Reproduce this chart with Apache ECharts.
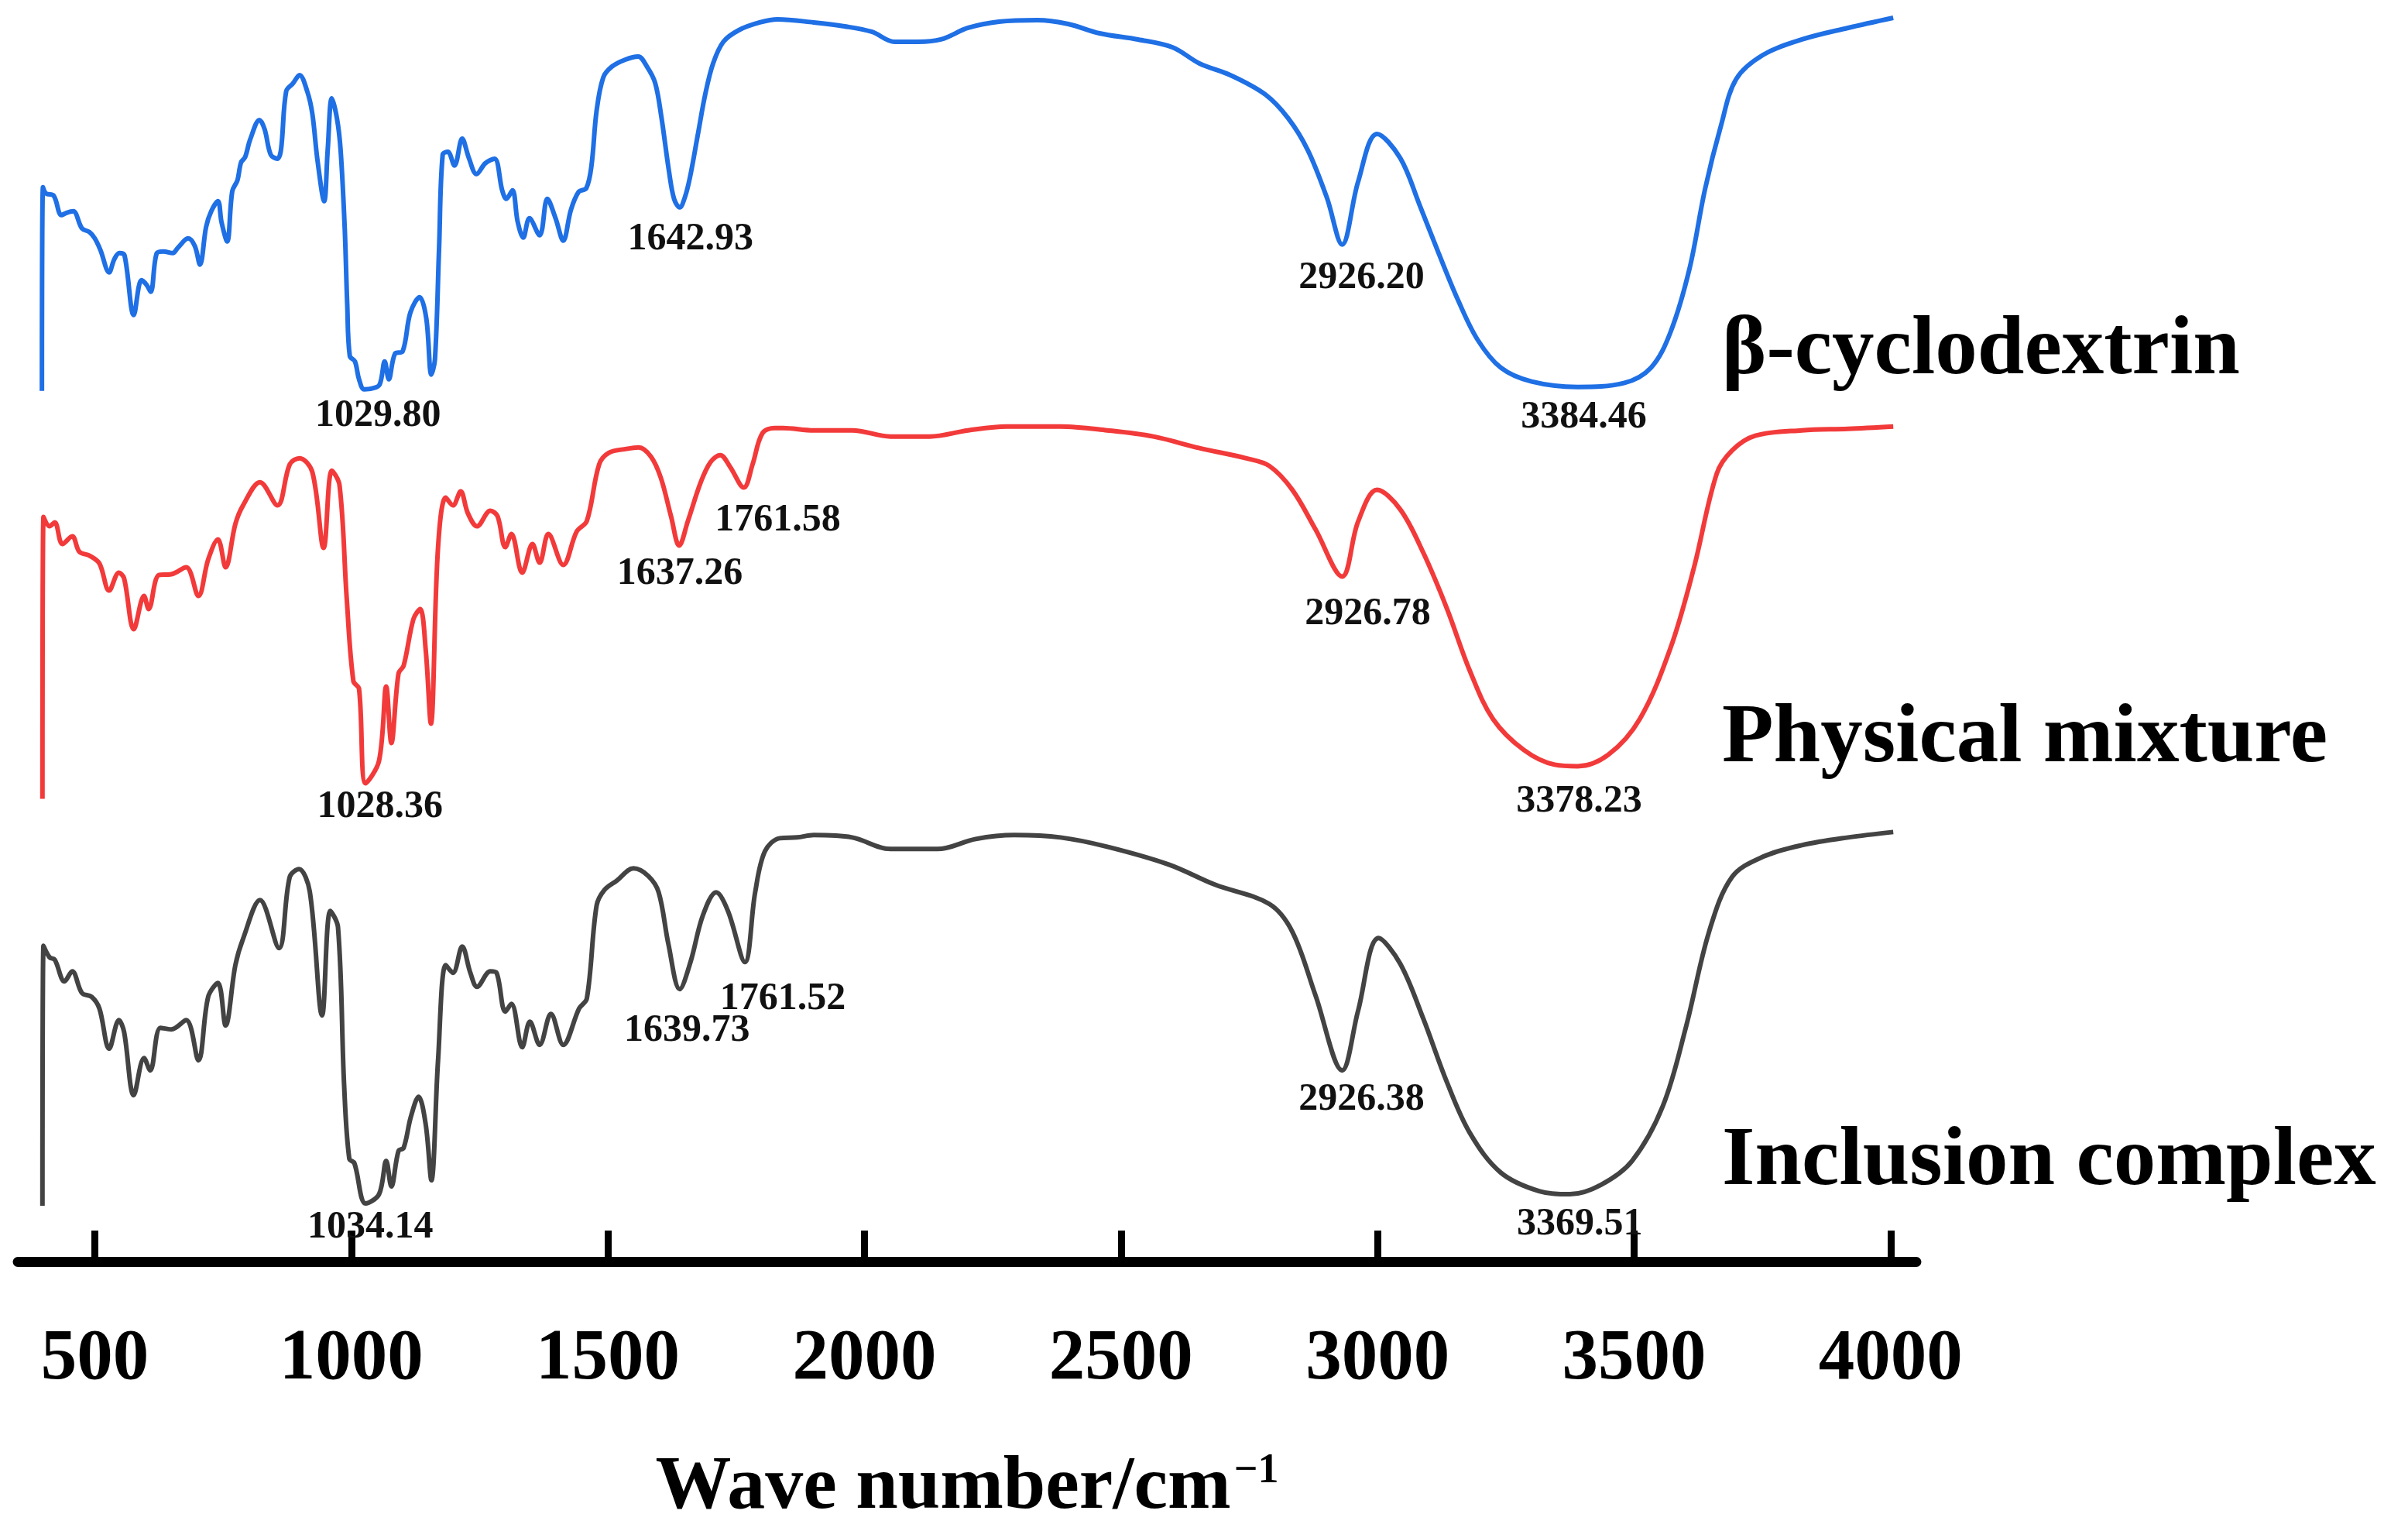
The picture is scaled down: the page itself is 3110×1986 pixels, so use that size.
<!DOCTYPE html>
<html>
<head>
<meta charset="utf-8">
<script src="https://cdn.jsdelivr.net/npm/echarts@6/dist/echarts.min.js"></script>
<style>
html,body{margin:0;padding:0;background:#fff;}
#chart{width:3110px;height:1986px;}
</style>
</head>
<body>
<div id="chart"></div>
<script>
// ---------- DATA ----------
const seriesNames = ['β-cyclodextrin', 'Physical mixture', 'Inclusion complex'];
const xTicks = [500, 1000, 1500, 2000, 2500, 3000, 3500, 4000];

// β-cyclodextrin: wavenumber (cm-1) and offset transmittance (a.u.)
const wnBeta = [397,399,405,420,435,445,458,475,490,500,511,528,538,548,558,576,591,601,609,621,634,652,662,682,695,705,717,727,740,747,758,768,778,785,793,803,821,831,843,856,863,873,886,899,914,924,934,947,954,962,972,979,987,992,997,1007,1015,1025,1040,1055,1065,1073,1085,
1100,1115,1133,1146,1156,1163,1171,1178,1188,1201,1216,1229,1244,1261,1279,1294,1302,1314,1324,1335,1347,1367,1382,1398,1413,1428,1443,1458,1468,1478,1491,1508,1534,1559,1576,1592,1604,1619,1629,1640,1650,1660,1675,1690,1705,1725,1755,1796,1831,
1901,1961,2014,2059,2104,2149,2202,2262,2337,2397,2458,2533,2600,2653,2713,2781,2826,2864,2901,2931,2962,2999,3044,3082,3119,3157,3195,3240,3300,3390,3480,3533,3571,3608,3638,3669,3699,3751,3827,3917,4005];
const tBeta = [1125,1388,1380,1377,1352,1355,1357,1335,1330,1322,1307,1278,1295,1303,1300,1223,1268,1262,1253,1303,1305,1303,1310,1322,1312,1288,1337,1357,1370,1343,1318,1383,1397,1420,1427,1450,1475,1463,1430,1425,1437,1512,1522,1533,1512,1483,1423,1370,1437,1503,1477,1437,1337,1237,1170,1163,1140,1127,1128,1133,1163,1140,1173,
1176,1226,1246,1219,1146,1166,1309,1430,1434,1416,1451,1426,1405,1419,1425,1384,1373,1384,1344,1323,1348,1326,1373,1348,1319,1359,1382,1387,1416,1487,1530,1544,1553,1557,1544,1523,1480,1409,1373,1362,1375,1401,1455,1509,1548,1576,1591,1601,1605,
1601,1596,1589,1576,1576,1579,1594,1602,1604,1599,1587,1579,1569,1548,1533,1508,1477,1436,1375,1314,1395,1457,1426,1365,1303,1242,1191,1155,1137,1130,1135,1155,1201,1283,1385,1467,1528,1559,1579,1594,1607];

// Physical mixture
const wnPhys = [398,400,412,422,437,456,470,490,509,528,547,557,576,596,605,625,649,678,702,721,740,755,774,789,822,856,880,899,924,946,962,977,991,1004,1015,1028,1054,1068,1078,1092,1102,1121,1134,1145,1155,1169,1184,1198,1213,1227,1245,1271,1285,1300,1312,1333,1353,1367,1384,1413,1439,1459,1483,1502,1536,1560,1584,1603,1623,1639,1656,1681,1700,1719,1738,1765,1782,1801,1825,
1841,1901,1976,2051,2127,2202,2277,2382,2473,2563,2653,2743,2789,2834,2879,2931,2962,2999,3044,3089,3135,3180,3225,3285,3345,3390,3450,3511,3571,3616,3661,3691,3736,3827,3917,4005];
const tPhys = [598,962,950,955,927,937,917,912,902,867,890,883,817,860,843,887,888,897,860,907,933,897,953,977,1007,977,1030,1038,1020,922,1022,1003,857,750,740,618,647,743,670,760,770,830,843,790,695,923,987,977,995,967,950,970,963,923,940,890,927,903,940,900,943,957,1030,1045,1050,1052,1040,1013,963,925,957,1007,1033,1042,1027,1000,1030,1070,1077,
1077,1074,1074,1066,1066,1074,1079,1079,1074,1066,1051,1038,1028,997,946,885,956,997,972,916,844,763,701,661,642,640,655,701,793,895,1018,1048,1067,1074,1076,1079];

// Inclusion complex
const wnIncl = [398,400,412,422,441,456,475,494,509,528,547,557,576,596,608,628,649,678,702,721,740,755,774,789,822,859,880,898,919,943,959,974,986,996,1006,1028,1054,1068,1078,1092,1102,1116,1131,1145,1156,1169,1184,1198,1216,1232,1245,1271,1283,1300,1312,1333,1348,1367,1389,1413,1444,1459,1478,1493,1517,1550,1579,1599,1618,1640,1661,1685,1711,1734,1767,1787,1806,1835,1869,
1901,1976,2051,2142,2217,2292,2382,2473,2593,2683,2789,2834,2879,2931,2962,3002,3044,3089,3135,3180,3240,3315,3375,3435,3496,3556,3601,3646,3691,3751,3827,3917,4005];
const tIncl = [72,408,393,390,362,375,347,342,327,275,312,297,215,263,247,302,300,312,260,342,360,305,383,417,467,405,497,507,478,318,453,432,227,133,127,75,87,130,97,143,147,187,213,177,105,260,383,373,407,373,355,375,373,323,333,277,310,280,320,280,327,340,460,480,492,508,498,477,410,352,387,447,477,453,387,477,530,547,548,
551,548,533,533,546,551,548,536,513,487,462,426,344,247,324,418,385,314,232,166,115,91,87,99,130,201,303,426,497,523,538,548,555];

// Peak annotations (text as printed)
const peaksBeta = ['1029.80', '1642.93', '2926.20', '3384.46'];
const peaksPhys = ['1028.36', '1637.26', '1761.58', '2926.78', '3378.23'];
const peaksIncl = ['1034.14', '1639.73', '1761.52', '2926.38', '3369.51'];

// ---------- LAYOUT / STYLE ----------
const SERIF = '"Liberation Serif","Times New Roman",serif';
const colors = ['#1f6fe5', '#f23a3a', '#434343'];
// label anchor points (x in cm-1, y in a.u.) for each peak label
const peakAnchors = [
  [[1052, 1093], [1661, 1321], [2969, 1271], [3402, 1091]],
  [[1056, 587], [1640, 888], [1831, 958], [2981, 836], [3393, 594]],
  [[1037, 44], [1654, 298], [1841, 339], [2969, 209], [3394, 48]]
];
const nameTops = [399, 900, 1446];

function zip(xs, ys) { return xs.map((x, i) => [x, ys[i]]); }
const allData = [zip(wnBeta, tBeta), zip(wnPhys, tPhys), zip(wnIncl, tIncl)];
const allPeaks = [peaksBeta, peaksPhys, peaksIncl];

const series = allData.map((d, si) => ({
  name: seriesNames[si],
  type: 'line',
  data: d,
  showSymbol: false,
  smooth: 0.35,
  lineStyle: { color: colors[si], width: 6 },
  itemStyle: { color: colors[si] },
  animation: false,
  markPoint: {
    symbol: 'circle',
    symbolSize: 1,
    itemStyle: { color: 'rgba(0,0,0,0)' },
    label: {
      show: true, position: 'inside', color: '#111',
      fontFamily: SERIF, fontWeight: 'bold', fontSize: 50
    },
    data: allPeaks[si].map((t, k) => ({
      coord: peakAnchors[si][k],
      value: t,
      label: { formatter: t }
    }))
  }
}));

const chart = echarts.init(document.getElementById('chart'), null, { renderer: 'canvas' });
chart.setOption({
  backgroundColor: '#ffffff',
  animation: false,
  grid: { left: 23, right: 635, top: 0, bottom: 311, containLabel: false },
  xAxis: {
    type: 'value', min: 350, max: 4050,
    splitLine: { show: false },
    axisLine: { show: true, lineStyle: { color: '#000', width: 13 } },
    axisTick: { show: true, inside: true, length: 40, customValues: xTicks, lineStyle: { color: '#000', width: 9 } },
    axisLabel: {
      show: true, customValues: xTicks, margin: 34,
      formatter: v => String(v),
      color: '#000', fontFamily: SERIF, fontWeight: 'bold', fontSize: 93
    },
    name: '{t|Wave number/cm}{s|−1}',
    nameLocation: 'middle',
    nameGap: 198,
    nameTextStyle: {
      rich: {
        t: { fontFamily: SERIF, fontWeight: 'bold', fontSize: 98, color: '#000', lineHeight: 98 },
        s: { fontFamily: SERIF, fontWeight: 'bold', fontSize: 54, color: '#000', verticalAlign: 'top', lineHeight: 98, padding: [0, 0, 44, 4] }
      }
    }
  },
  yAxis: { type: 'value', min: -46, max: 1630, show: false, splitLine: { show: false } },
  graphic: seriesNames.map((n, i) => ({
    type: 'text', left: 2224, top: nameTops[i],
    style: { text: n, font: 'bold 109px ' + SERIF, fill: '#000' }
  })),
  series: series
});
</script>
</body>
</html>
